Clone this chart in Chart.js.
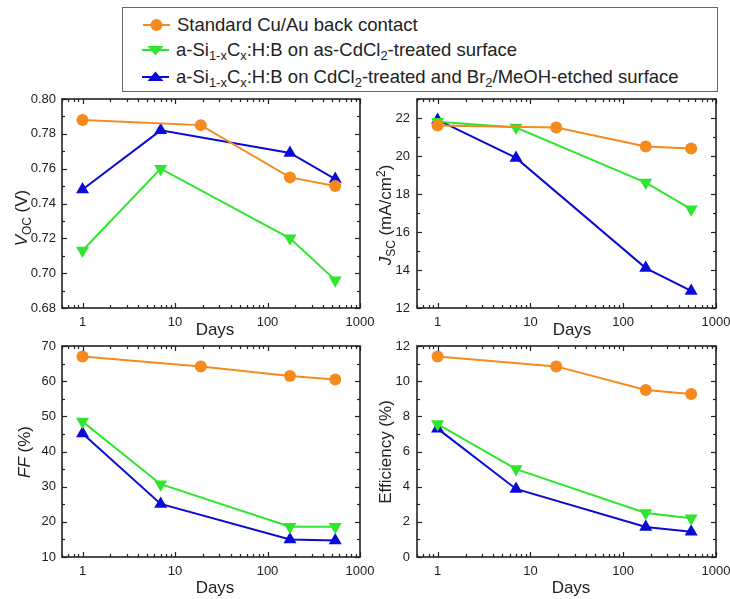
<!DOCTYPE html>
<html><head><meta charset="utf-8">
<script src="https://cdn.jsdelivr.net/npm/chart.js@4/dist/chart.umd.min.js"></script>
<style>
html,body{margin:0;padding:0;background:#fff;}
#wrap{position:relative;width:730px;height:599px;overflow:hidden;font-family:"Liberation Sans",Arial,sans-serif;color:#222;background:#fff;}
canvas{position:absolute;}
.ytitle{position:absolute;white-space:nowrap;font-size:17px;transform:translate(-50%,-50%) rotate(-90deg);}
.xtitle{position:absolute;white-space:nowrap;font-size:17px;transform:translate(-50%,-50%);}
#legend{position:absolute;left:122px;top:7px;width:596px;height:85px;border:1px solid #666;box-sizing:border-box;}
.row{position:absolute;left:19px;height:24px;display:flex;align-items:center;font-size:18.5px;white-space:nowrap;}
.row svg{margin-right:7px;flex:none;}
sub,sup{font-size:0.7em;line-height:0;}
sub{vertical-align:-0.3em;}
sup{vertical-align:0.5em;}
</style></head>
<body>
<div id="wrap">
  <div id="legend">
    <div class="row" style="top:5px;left:20px"><svg width="27" height="14"><line x1="0" y1="7" x2="27" y2="7" stroke="#F58A1F" stroke-width="2"/><circle cx="13.5" cy="7" r="6" fill="#F58A1F"/></svg><span>Standard Cu/Au back contact</span></div>
    <div class="row" style="top:30px"><svg width="27" height="14"><line x1="0" y1="7" x2="27" y2="7" stroke="#2EE62E" stroke-width="2"/><polygon points="5.5,3 21.5,3 13.5,12.5" fill="#2EE62E"/></svg><span>a-Si<sub>1-x</sub>C<sub>x</sub>:H:B on as-CdCl<sub>2</sub>-treated surface</span></div>
    <div class="row" style="top:57px"><svg width="27" height="14"><line x1="0" y1="7" x2="27" y2="7" stroke="#0A0AD6" stroke-width="2"/><polygon points="5.5,11 21.5,11 13.5,1.5" fill="#0A0AD6"/></svg><span>a-Si<sub>1-x</sub>C<sub>x</sub>:H:B on CdCl<sub>2</sub>-treated and Br<sub>2</sub>/MeOH-etched surface</span></div>
  </div>
  <canvas id="cVoc" width="380" height="250" style="left:0;top:90px"></canvas>
  <canvas id="cJsc" width="370" height="250" style="left:360px;top:90px"></canvas>
  <canvas id="cFF" width="380" height="262" style="left:0;top:337px"></canvas>
  <canvas id="cEff" width="370" height="262" style="left:360px;top:337px"></canvas>

  <div class="ytitle" style="left:22px;top:218px"><i>V</i><sub>OC</sub> (V)</div>
  <div class="ytitle" style="left:386px;top:215px"><i>J</i><sub>SC</sub> (mA/cm<sup>2</sup>)</div>
  <div class="ytitle" style="left:25px;top:452px"><i>FF</i> (%)</div>
  <div class="ytitle" style="left:386px;top:452px">Efficiency (%)</div>
  <div class="xtitle" style="left:215px;top:330px">Days</div>
  <div class="xtitle" style="left:572px;top:330px">Days</div>
  <div class="xtitle" style="left:215px;top:588px">Days</div>
  <div class="xtitle" style="left:571px;top:588px">Days</div>
</div>
<script>
// ---- data ----
const daysStandard = [1, 19, 175, 540];
const daysCoated = [1, 7, 175, 540];

const vocStandard = [0.788, 0.785, 0.755, 0.750];
const vocAsTreated = [0.713, 0.760, 0.720, 0.696];
const vocEtched = [0.748, 0.782, 0.769, 0.754];

const jscStandard = [21.6, 21.5, 20.5, 20.4];
const jscAsTreated = [21.8, 21.5, 18.6, 17.2];
const jscEtched = [21.9, 19.9, 14.1, 12.9];

const ffStandard = [67.0, 64.2, 61.5, 60.5];
const ffAsTreated = [48.5, 30.7, 18.6, 18.6];
const ffEtched = [45.1, 25.1, 15.0, 14.7];

const effStandard = [11.4, 10.84, 9.5, 9.27];
const effAsTreated = [7.56, 5.0, 2.5, 2.2];
const effEtched = [7.3, 3.87, 1.71, 1.44];

const xTickValues = [1, 10, 100, 1000];
const vocTicks = [0.68, 0.70, 0.72, 0.74, 0.76, 0.78, 0.80];
const jscTicks = [12, 14, 16, 18, 20, 22];
const ffTicks = [10, 20, 30, 40, 50, 60, 70];
const effTicks = [0, 2, 4, 6, 8, 10, 12];

const seriesLabels = ['Standard Cu/Au back contact',
  'a-Si1-xCx:H:B on as-CdCl2-treated surface',
  'a-Si1-xCx:H:B on CdCl2-treated and Br2/MeOH-etched surface'];

// ---- styles ----
const ORANGE = '#F58A1F', GREEN = '#2EE62E', BLUE = '#0A0AD6', AXIS = '#222';
const FONT = '"Liberation Sans", Arial, sans-serif';

function pts(xs, ys) { return xs.map((x, i) => ({ x: x, y: ys[i] })); }

const boxTicks = {
  id: 'boxTicks',
  afterDatasetsDraw(chart, args, opts) {
    const ctx = chart.ctx, a = chart.chartArea, x = chart.scales.x, y = chart.scales.y;
    ctx.save();
    ctx.strokeStyle = AXIS;
    ctx.lineWidth = 1.2;
    const seg = (x1, y1, x2, y2) => { ctx.beginPath(); ctx.moveTo(x1, y1); ctx.lineTo(x2, y2); ctx.stroke(); };
    const MAJ = 5, MIN = 3;
    for (let e = -1; e <= 3; e++) {
      for (let m = 1; m <= 9; m++) {
        const v = m * Math.pow(10, e);
        if (v < x.min - 1e-9 || v > x.max + 1e-9) continue;
        const px = Math.round(x.getPixelForValue(v)) + 0.5;
        const len = m === 1 ? MAJ : MIN;
        seg(px, a.bottom, px, a.bottom - len);
        seg(px, a.top, px, a.top + len);
      }
    }
    const half = opts.step / 2;
    const n = Math.round((y.max - y.min) / half);
    for (let k = 0; k <= n; k++) {
      const v = y.min + k * half;
      const py = Math.round(y.getPixelForValue(v)) + 0.5;
      const len = k % 2 === 0 ? MAJ : MIN;
      seg(a.left, py, a.left + len, py);
      seg(a.right, py, a.right - len, py);
    }
    ctx.lineWidth = 1.6;
    ctx.strokeRect(a.left, a.top, a.right - a.left, a.bottom - a.top);
    ctx.restore();
  }
};

function zeroPad(s) { s.paddingLeft = 0; s.paddingRight = 0; s.paddingTop = 0; s.paddingBottom = 0; }

function makeChart(id, values, yCfg, geo) {
  const datasets = [
    { label: seriesLabels[0], data: pts(daysStandard, values[0]), borderColor: ORANGE, backgroundColor: ORANGE,
      pointStyle: 'circle', pointRadius: 6, pointRotation: 0 },
    { label: seriesLabels[1], data: pts(daysCoated, values[1]), borderColor: GREEN, backgroundColor: GREEN,
      pointStyle: 'triangle', pointRadius: 7.5, pointRotation: 180 },
    { label: seriesLabels[2], data: pts(daysCoated, values[2]), borderColor: BLUE, backgroundColor: BLUE,
      pointStyle: 'triangle', pointRadius: 7.5, pointRotation: 0 }
  ].map(d => Object.assign(d, { showLine: true, borderWidth: 2, pointBorderWidth: 0, pointHoverRadius: d.pointRadius }));

  return new Chart(document.getElementById(id), {
    type: 'scatter',
    data: { datasets: datasets },
    plugins: [boxTicks],
    options: {
      responsive: false,
      animation: false,
      events: [],
      layout: { padding: { top: geo.top, right: geo.right, left: 0, bottom: 0 } },
      plugins: { legend: { display: false }, tooltip: { enabled: false }, boxTicks: { step: yCfg.step } },
      scales: {
        x: {
          type: 'logarithmic', min: 0.6, max: 1000,
          grid: { display: false, drawTicks: false }, border: { display: false },
          afterBuildTicks: s => { s.ticks = xTickValues.map(v => ({ value: v })); },
          afterFit: s => { s.height = geo.xh; zeroPad(s); },
          ticks: { padding: 7, color: AXIS, font: { family: FONT, size: 13 }, maxRotation: 0, autoSkip: false,
                   callback: v => String(v) }
        },
        y: {
          type: 'linear', min: yCfg.min, max: yCfg.max,
          grid: { display: false, drawTicks: false }, border: { display: false },
          afterBuildTicks: s => { s.ticks = yCfg.ticks.map(v => ({ value: v })); },
          afterFit: s => { s.width = geo.yw; zeroPad(s); },
          ticks: { padding: geo.ypad, color: AXIS, font: { family: FONT, size: 13 },
                   callback: v => yCfg.dec ? Number(v).toFixed(yCfg.dec) : String(Math.round(v)) }
        }
      }
    }
  });
}

makeChart('cVoc', [vocStandard, vocAsTreated, vocEtched],
  { min: 0.68, max: 0.80, step: 0.02, ticks: vocTicks, dec: 2 },
  { top: 9, right: 20, yw: 62, xh: 32, ypad: 6 });
makeChart('cJsc', [jscStandard, jscAsTreated, jscEtched],
  { min: 12, max: 23, step: 2, ticks: jscTicks, dec: 0 },
  { top: 9, right: 14, yw: 57, xh: 32, ypad: 7 });
makeChart('cFF', [ffStandard, ffAsTreated, ffEtched],
  { min: 10, max: 70, step: 10, ticks: ffTicks, dec: 0 },
  { top: 9, right: 20, yw: 62, xh: 42, ypad: 6 });
makeChart('cEff', [effStandard, effAsTreated, effEtched],
  { min: 0, max: 12, step: 2, ticks: effTicks, dec: 0 },
  { top: 9, right: 14, yw: 57, xh: 42, ypad: 7 });
</script>
</body></html>
